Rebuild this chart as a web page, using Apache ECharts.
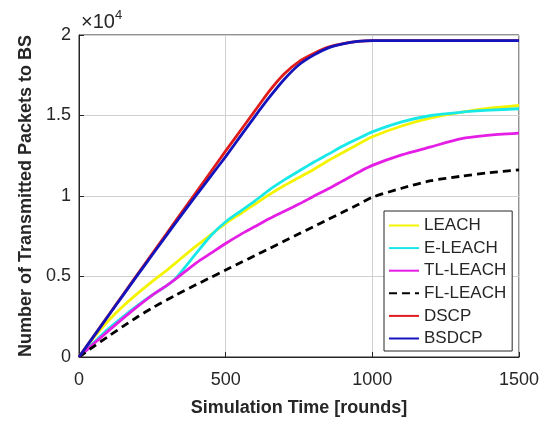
<!DOCTYPE html>
<html>
<head>
<meta charset="utf-8">
<script src="https://cdn.jsdelivr.net/npm/echarts@6/dist/echarts.min.js"></script>
<style>
  html, body { margin: 0; padding: 0; background: #ffffff; }
  #chart { width: 550px; height: 423px; }
</style>
</head>
<body>
<div id="chart"></div>
<script>
// ---- data ----
const rounds = [0, 50, 100, 150, 200, 250, 300, 330, 400, 450, 500, 550, 600, 650, 700, 750, 800, 850, 900, 950, 1000, 1100, 1200, 1300, 1400, 1500];
const leach   = [0, 1200, 2250, 3150, 3950, 4700, 5400, 5850, 6900, 7600, 8300, 8900, 9500, 10100, 10650, 11150, 11650, 12200, 12700, 13200, 13680, 14350, 14850, 15200, 15450, 15620];
const eLeach  = [0, 880, 1750, 2500, 3200, 3850, 4450, 4900, 6450, 7550, 8400, 9050, 9700, 10400, 11000, 11550, 12100, 12600, 13100, 13550, 13980, 14600, 15000, 15200, 15330, 15420];
const tlLeach = [0, 820, 1620, 2400, 3150, 3850, 4450, 4850, 5850, 6450, 7050, 7600, 8100, 8600, 9050, 9500, 9980, 10450, 10950, 11450, 11900, 12550, 13050, 13550, 13780, 13900];
const flLeach = [0, 650, 1280, 1900, 2500, 3050, 3550, 3850, 4500, 4950, 5400, 5850, 6300, 6750, 7200, 7650, 8100, 8550, 9000, 9450, 9920, 10480, 10950, 11220, 11450, 11620];
const dscp    = [0, 1290, 2580, 3870, 5150, 6430, 7700, 8470, 10250, 11520, 12800, 14050, 15300, 16550, 17600, 18350, 18850, 19250, 19470, 19600, 19650, 19650, 19650, 19650, 19650, 19650];
const bsdcp   = [0, 1280, 2560, 3830, 5100, 6350, 7600, 8350, 10050, 11250, 12450, 13700, 14950, 16150, 17250, 18150, 18750, 19200, 19450, 19600, 19650, 19650, 19650, 19650, 19650, 19650];

const seriesNames = ['LEACH', 'E-LEACH', 'TL-LEACH', 'FL-LEACH', 'DSCP', 'BSDCP'];
const seriesValues = [leach, eLeach, tlLeach, flLeach, dscp, bsdcp];
const seriesColors = ['#f4f400', '#19e8e8', '#e41ee4', '#000000', '#e01b1b', '#1414bc'];
const xTicks = [0, 500, 1000, 1500];
const yTickLabels = ['0', '0.5', '1', '1.5', '2'];
const xName = 'Simulation Time [rounds]';
const yName = 'Number of Transmitted Packets to BS';

const FONT = '"Liberation Sans", Arial, Helvetica, sans-serif';
const chart = echarts.init(document.getElementById('chart'), null, { renderer: 'canvas' });

const series = seriesNames.map((name, i) => ({
  name: name,
  type: 'line',
  data: rounds.map((r, k) => [r, seriesValues[i][k]]),
  showSymbol: false,
  symbol: 'none',
  smooth: 0.25,
  color: seriesColors[i],
  itemStyle: { color: seriesColors[i] },
  lineStyle: {
    color: seriesColors[i],
    width: 2.8,
    type: name === 'FL-LEACH' ? [8, 5] : 'solid'
  },
  emphasis: { disabled: true },
  animation: false
}));

chart.setOption({
  animation: false,
  backgroundColor: '#ffffff',
  grid: {
    left: 79, right: 31, top: 35, bottom: 66,
    show: true, borderColor: '#262626', borderWidth: 1, backgroundColor: 'transparent'
  },
  xAxis: {
    type: 'value', min: 0, max: 1500, interval: 500,
    name: xName, nameLocation: 'middle', nameGap: 42,
    nameTextStyle: { fontFamily: FONT, fontSize: 18, fontWeight: 'bold', color: '#262626' },
    axisLine: { show: true, lineStyle: { color: '#262626', width: 1 } },
    axisTick: { show: true, inside: true, length: 5, lineStyle: { color: '#262626' } },
    axisLabel: { margin: 14, fontFamily: FONT, fontSize: 18, color: '#262626',
      formatter: v => xTicks.includes(v) ? String(v) : '' },
    splitLine: { show: true, lineStyle: { color: '#d0d0d0', width: 1 } }
  },
  yAxis: {
    type: 'value', min: 0, max: 20000, interval: 5000,
    name: yName, nameLocation: 'middle', nameGap: 44,
    nameTextStyle: { fontFamily: FONT, fontSize: 18, fontWeight: 'bold', color: '#262626' },
    axisLine: { show: true, lineStyle: { color: '#262626', width: 1 } },
    axisTick: { show: true, inside: true, length: 5, lineStyle: { color: '#262626' } },
    axisLabel: { margin: 8, fontFamily: FONT, fontSize: 18, color: '#262626',
      formatter: v => yTickLabels[Math.round(v / 5000)] },
    splitLine: { show: true, lineStyle: { color: '#d0d0d0', width: 1 } }
  },
  legend: {
    orient: 'vertical',
    left: 384, top: 211,
    padding: [6, 6, 4, 4],
    itemWidth: 30, itemHeight: 14, itemGap: 5.6,
    backgroundColor: '#ffffff',
    borderColor: '#262626', borderWidth: 1, borderRadius: 0,
    itemStyle: { opacity: 0 },
    textStyle: { fontFamily: FONT, fontSize: 17, color: '#262626' },
    data: seriesNames,
    selectedMode: false
  },
  graphic: [{
    type: 'text',
    left: 81, top: 9,
    style: {
      text: '{a|×10}{b|4}',
      rich: {
        a: { fontFamily: FONT, fontSize: 20, fill: '#262626', verticalAlign: 'bottom', lineHeight: 22 },
        b: { fontFamily: FONT, fontSize: 13, fill: '#262626', verticalAlign: 'top', padding: [0, 0, 10, 0] }
      }
    }
  }],
  series: series
});
</script>
</body>
</html>
